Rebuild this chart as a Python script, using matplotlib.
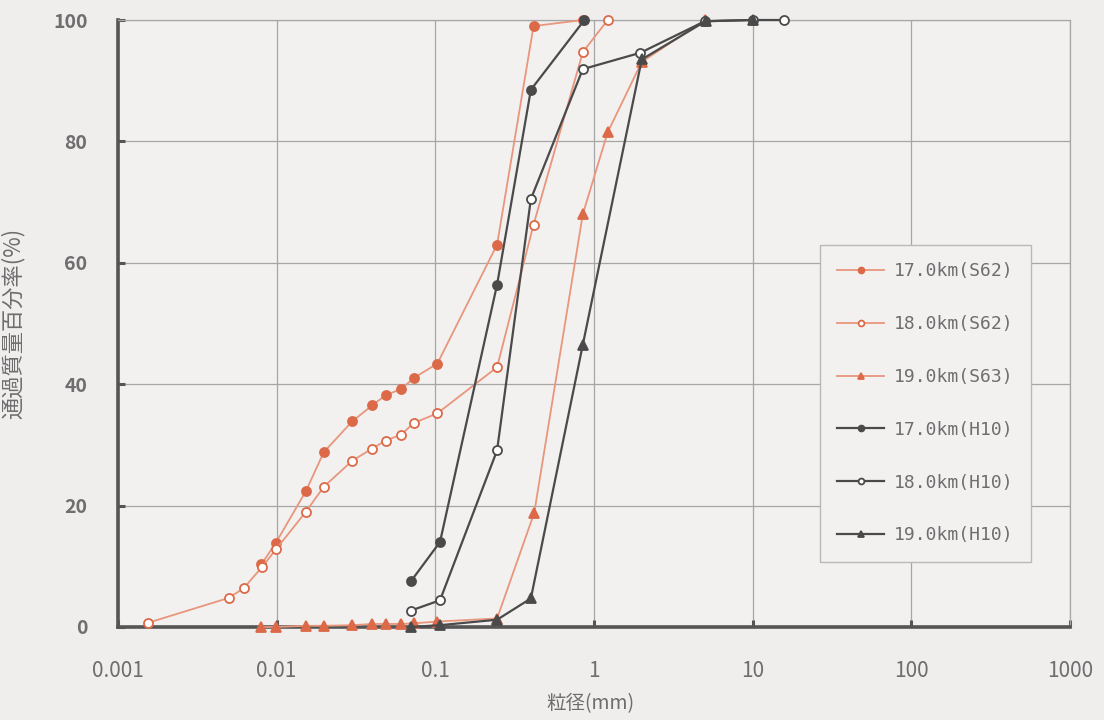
import matplotlib
matplotlib.use("Agg")
import matplotlib.pyplot as plt

plt.rcParams['font.family'] = ['Noto Sans CJK JP', 'DejaVu Sans']

# Particle size (mm) and percent passing for each sampling point
x_17_s62 = [0.008, 0.0099, 0.0153, 0.0198, 0.030, 0.040, 0.0486, 0.061, 0.073, 0.103, 0.245, 0.416, 0.85]
y_17_s62 = [10.3, 13.9, 22.4, 28.8, 33.9, 36.5, 38.2, 39.2, 41.0, 43.4, 63.0, 99.0, 100.0]

x_18_s62 = [0.00155, 0.0050, 0.0062, 0.0081, 0.0099, 0.0153, 0.0198, 0.030, 0.040, 0.0486, 0.061, 0.073, 0.103, 0.245, 0.416, 0.85, 1.22]
y_18_s62 = [0.7, 4.8, 6.4, 9.9, 12.8, 19.0, 23.1, 27.4, 29.4, 30.7, 31.7, 33.6, 35.2, 42.8, 66.3, 94.7, 100.0]

x_19_s63 = [0.008, 0.0099, 0.0153, 0.0198, 0.030, 0.040, 0.0486, 0.061, 0.073, 0.103, 0.245, 0.42, 0.85, 1.22, 2.0, 5.0]
y_19_s63 = [0.0, 0.0, 0.2, 0.2, 0.3, 0.5, 0.5, 0.5, 0.6, 0.9, 1.4, 18.8, 68.0, 81.5, 93.1, 100.0]

x_17_h10 = [0.070, 0.107, 0.245, 0.40, 0.87]
y_17_h10 = [7.5, 14.0, 56.4, 88.5, 100.0]

x_18_h10 = [0.070, 0.107, 0.245, 0.40, 0.85, 1.96, 5.0, 10.0, 15.7]
y_18_h10 = [2.7, 4.4, 29.1, 70.5, 91.9, 94.6, 99.8, 100.0, 100.0]

x_19_h10 = [0.070, 0.107, 0.245, 0.40, 0.85, 2.0, 5.05, 10.0]
y_19_h10 = [0.0, 0.3, 1.2, 4.7, 46.5, 93.5, 99.8, 100.0]

labels = ['17.0km(S62)', '18.0km(S62)', '19.0km(S63)',
          '17.0km(H10)', '18.0km(H10)', '19.0km(H10)']

x_ticks = [0.001, 0.01, 0.1, 1, 10, 100, 1000]
x_ticklabels = ['0.001', '0.01', '0.1', '1', '10', '100', '1000']
y_ticks = [0, 20, 40, 60, 80, 100]

bg = '#F0EDED'
orange_line = '#E8967C'
orange_mark = '#DC6A48'
dark = '#4A4A4A'
text_gray = '#6E6E6E'

fig = plt.figure(figsize=(11.04, 7.2), dpi=100, facecolor=bg)
ax = fig.add_axes([118 / 1104, 1 - 627 / 720, 952 / 1104, 607 / 720])
ax.set_facecolor('#F3F0F0')

series = [
    (x_17_s62, y_17_s62, 'o', True, orange_line, orange_mark, 1.3),
    (x_18_s62, y_18_s62, 'o', False, orange_line, orange_mark, 1.3),
    (x_19_s63, y_19_s63, '^', True, orange_line, orange_mark, 1.3),
    (x_17_h10, y_17_h10, 'o', True, dark, dark, 1.6),
    (x_18_h10, y_18_h10, 'o', False, dark, dark, 1.6),
    (x_19_h10, y_19_h10, '^', True, dark, dark, 1.6),
]

for (xs, ys, m, filled, lc, mc, lw), lab in zip(series, labels):
    ax.plot(xs, ys, color=lc, lw=lw, marker=m, markersize=6.5,
            markerfacecolor=mc if filled else 'white',
            markeredgecolor=mc, markeredgewidth=1.3, label=lab,
            clip_on=False, zorder=3)

ax.set_xscale('log')
ax.set_xlim(0.001, 1000)
ax.set_ylim(0, 100)
ax.set_xticks(x_ticks)
ax.set_xticklabels(x_ticklabels)
ax.minorticks_off()
ax.set_yticks(y_ticks)

ax.grid(True, which='major', color='#A6A6A6', lw=0.9, zorder=0)
ax.set_axisbelow(True)

for side in ('left', 'bottom'):
    ax.spines[side].set_color('#555555')
    ax.spines[side].set_linewidth(2.6)
for side in ('top', 'right'):
    ax.spines[side].set_color('#A6A6A6')
    ax.spines[side].set_linewidth(0.9)

ax.tick_params(axis='both', direction='in', length=5, width=2.2, color='#555555',
               labelcolor=text_gray)
ax.tick_params(axis='x', pad=24, labelsize=15)
ax.tick_params(axis='y', pad=22, labelsize=14)
for t in ax.get_yticklabels():
    t.set_fontweight('bold')

ax.set_xlabel('粒径(mm)', fontsize=14, color=text_gray)
ax.xaxis.set_label_coords((590 - 118) / 952, -(693 - 627) / 607)
ax.set_ylabel('通過質量百分率(%)', fontsize=16, color=text_gray)
ax.yaxis.set_label_coords((25 - 118) / 952, 0.5)

leg = ax.legend(loc='upper left', bbox_to_anchor=(820 / 1104, 1 - 245 / 720),
                bbox_transform=fig.transFigure, borderaxespad=0,
                prop={'family': 'DejaVu Sans Mono', 'size': 13},
                labelspacing=1.93, handlelength=2.6, handletextpad=0.55,
                borderpad=0.95, markerscale=0.65, fancybox=False,
                framealpha=1.0, facecolor='#F3F0F0', edgecolor='#B8B8B8')
for t in leg.get_texts():
    t.set_color(text_gray)

fig.savefig('out.png', dpi=100, facecolor=bg)
